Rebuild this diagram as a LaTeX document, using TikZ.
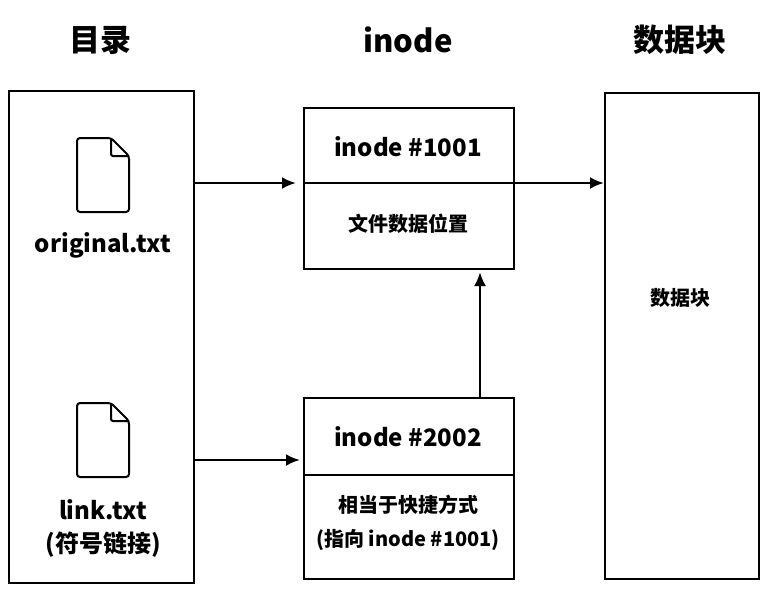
\documentclass[tikz,border=0pt]{standalone}
\usepackage{fontspec}
\setmainfont{Noto Sans CJK SC}
\usetikzlibrary{arrows.meta}
\begin{document}
\begin{tikzpicture}[x=1pt,y=-1pt,
  box/.style={draw,line width=2pt},
  arr/.style={-{Latex[length=14pt,width=12pt]},line width=2.6pt},
  title/.style={font=\fontsize{31}{36}\selectfont\bfseries},
  big/.style={font=\fontsize{24}{30}\selectfont\bfseries},
  small/.style={font=\fontsize{20}{24}\selectfont\bfseries},
  fileicon/.pic={\draw[line width=2pt,rounded corners=3pt] (-26,-37) -- (8,-37) -- (26,-19) -- (26,37) -- (-26,37) -- cycle;
    \draw[line width=2pt,rounded corners=2pt] (8,-37) -- (8,-19) -- (26,-19);}]
\useasboundingbox (0,0) rectangle (766,614);
\node[title] (t1) at (100,40) {目录};
\node[title] (t2) at (408,40) {inode};
\node[title] (t3) at (680,40) {数据块};
\node[box,minimum width=185,minimum height=492,anchor=north west] (dir) at (8,90) {};
\node[box,minimum width=154,minimum height=486,anchor=north west] (data) at (604,92) {};
\node[box,minimum width=210,minimum height=161,anchor=north west] (i1) at (303,107) {};
\draw[line width=2pt] (303,183) -- (513,183);
\node[box,minimum width=210,minimum height=181,anchor=north west] (i2) at (303,397) {};
\draw[line width=2pt] (303,475) -- (513,475);
\pic at (103,175) {fileicon};
\pic at (103,440) {fileicon};
\node[big] (f1) at (103,245) {original.txt};
\node[big] (f2) at (103,510) {link.txt};
\node[big] (f3) at (103,545) {(符号链接)};
\node[big] (i1a) at (408,147) {inode \#1001};
\node[small] (i1b) at (408,224) {文件数据位置};
\node[big] (i2a) at (408,437) {inode \#2002};
\node[small] (i2b) at (408,505) {相当于快捷方式};
\node[small] (i2c) at (408,540) {(指向 inode \#1001)};
\node[small] (dl) at (680,298) {数据块};
\coordinate (a1) at (193,183); \coordinate (b1) at (296,183);
\coordinate (a2) at (513,183); \coordinate (b2) at (604,183);
\coordinate (a3) at (193,460); \coordinate (b3) at (300,460);
\coordinate (a4) at (480,397); \coordinate (b4) at (480,272);
\draw[arr] (a1) -- (b1);
\draw[arr] (a2) -- (b2);
\draw[arr] (a3) -- (b3);
\draw[arr] (a4) -- (b4);
\end{tikzpicture}
\end{document}
